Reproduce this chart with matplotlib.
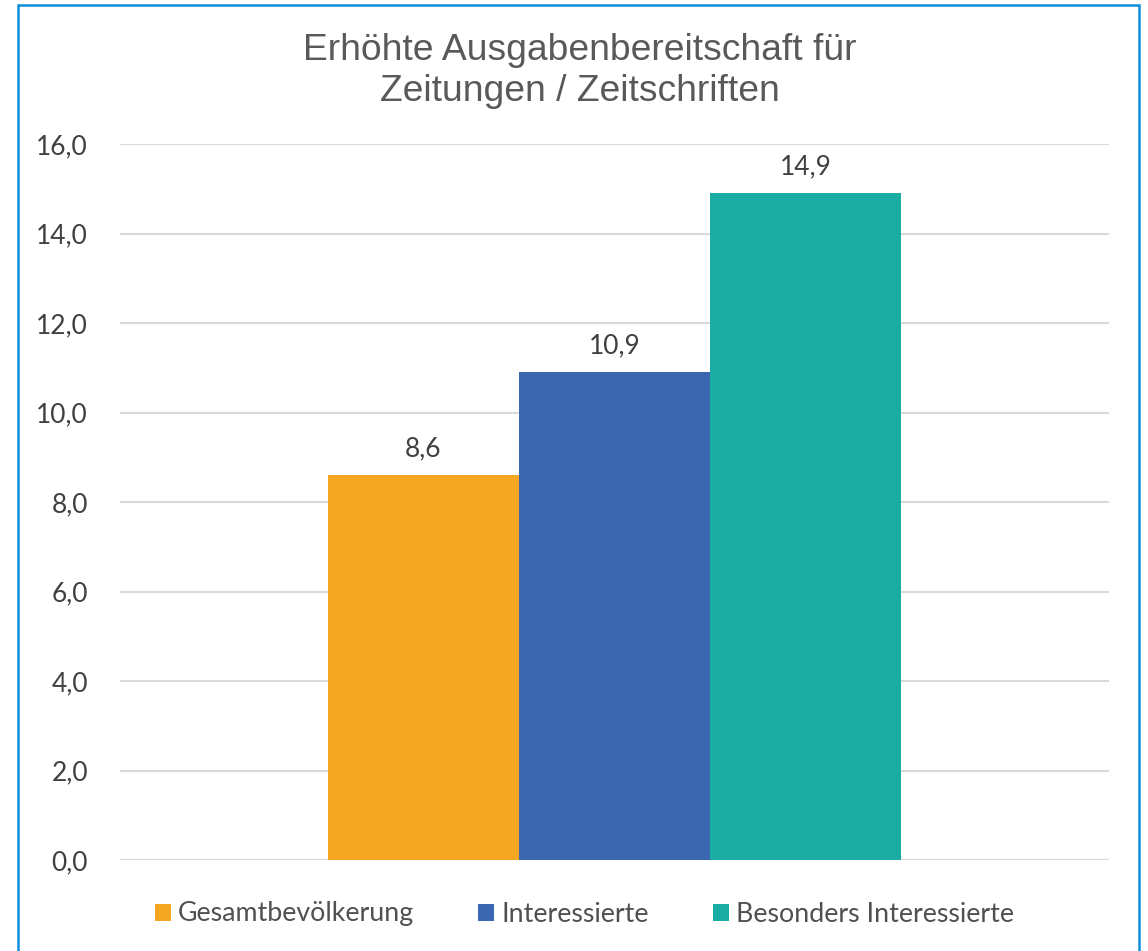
import matplotlib.pyplot as plt
from matplotlib.patches import Rectangle

series = ['Gesamtbevölkerung', 'Interessierte', 'Besonders Interessierte']
values = [8.6, 10.9, 14.9]
colors = ['#F5A623', '#3A67B0', '#1BADA3']
yticks = [0, 2, 4, 6, 8, 10, 12, 14, 16]

fig = plt.figure(figsize=(11.48, 9.51), dpi=100)
ax = fig.add_axes([120 / 1148, 1 - 860 / 951, 989 / 1148, 716 / 951])

w = 191 / 989
offsets = [-w, 0, w]
for name, val, col, off in zip(series, values, colors, offsets):
    ax.bar(off, val, width=w, color=col, label=name, zorder=3)
    ax.annotate(f'{val:.1f}'.replace('.', ','), (off, val), xytext=(0, 10),
                textcoords='offset points', ha='center', va='bottom',
                fontsize=19, color='#404040', family='Lato')

ax.set_xlim(-0.5, 0.5)
ax.set_ylim(0, 16)
ax.set_yticks(yticks)
ax.set_yticklabels([f'{t:.1f}'.replace('.', ',') for t in yticks], family='Lato',
                   fontsize=19, color='#404040')
ax.set_xticks([])
ax.tick_params(axis='y', length=0, pad=23)
ax.yaxis.grid(True, color='#D9D9D9', linewidth=1.5, zorder=0)
for s in ax.spines.values():
    s.set_visible(False)

fig.text(0.505, 1 - 71 / 951, 'Erhöhte Ausgabenbereitschaft für\nZeitungen / Zeitschriften',
         ha='center', va='center', fontsize=26.8, color='#595959',
         family='Liberation Sans', linespacing=1.22)

leg = fig.legend(loc='center', bbox_to_anchor=(0.509, 1 - 914 / 951), ncol=3, frameon=False,
                 prop={'family': 'Lato', 'size': 19.3}, handlelength=0.6, handleheight=0.6,
                 handletextpad=0.25, columnspacing=2.4)
for t in leg.get_texts():
    t.set_color('#505050')

fig.patches.append(Rectangle((18 / 1148, -0.01), (1139 - 18) / 1148, 1.01 - 5 / 951,
                             transform=fig.transFigure, fill=False,
                             edgecolor='#0A8ED9', linewidth=1.8))

plt.savefig('out.png')
